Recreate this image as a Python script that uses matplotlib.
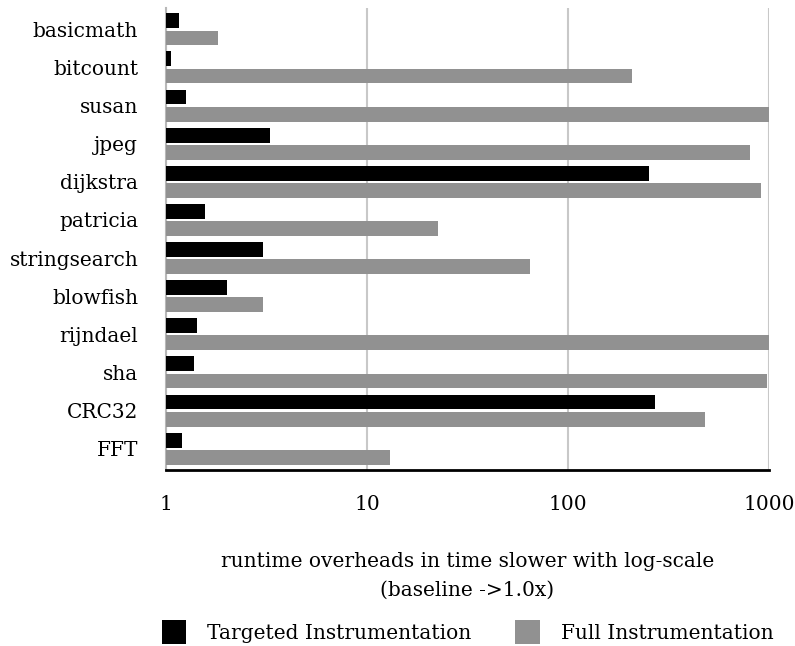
import numpy as np
import matplotlib
matplotlib.use("Agg")
import matplotlib.pyplot as plt

plt.rcParams['font.family'] = ['DejaVu Serif']

# benchmark names (top to bottom) and slowdown factors
benchmarks = ['basicmath', 'bitcount', 'susan', 'jpeg', 'dijkstra', 'patricia',
              'stringsearch', 'blowfish', 'rijndael', 'sha', 'CRC32', 'FFT']
targeted = [1.16, 1.06, 1.26, 3.29, 253, 1.56, 3.04, 2.01, 1.43, 1.38, 271, 1.2]
full = [1.81, 208, 1000, 804, 912, 22.6, 64.7, 3.04, 1000, 977, 480, 13]
xticks = [1, 10, 100, 1000]

fs = 14.5
fig = plt.figure(figsize=(7.95, 6.46), dpi=100)
ax = fig.add_axes([0.2088, 0.2724, 0.7585, 0.7152])

y = np.arange(len(benchmarks))
h = 0.39
ax.barh(y - 0.225, np.array(targeted) - 1, height=h, left=1, color='black',
        label='Targeted Instrumentation', zorder=3)
ax.barh(y + 0.225, np.array(full) - 1, height=h, left=1, color='#919191',
        label='Full Instrumentation', zorder=3)

ax.set_xscale('log')
ax.set_xlim(1, 1000)
ax.set_ylim(11.56, -0.56)
ax.set_xticks(xticks)
ax.set_xticklabels([str(t) for t in xticks], fontsize=fs)
ax.minorticks_off()
ax.set_yticks(y)
ax.set_yticklabels(benchmarks, fontsize=fs)
ax.tick_params(axis='both', length=0)
ax.tick_params(axis='y', pad=20)
ax.tick_params(axis='x', pad=18)

ax.grid(axis='x', color='#c8c8c8', linewidth=1.5, zorder=0)
for s in ['top', 'right']:
    ax.spines[s].set_visible(False)
ax.spines['left'].set_color('#b8b8b8')
ax.spines['left'].set_linewidth(1.5)
ax.spines['bottom'].set_color('black')
ax.spines['bottom'].set_linewidth(2)

ax.set_xlabel('runtime overheads in time slower with log-scale\n(baseline ->1.0x)',
              fontsize=fs, labelpad=27, linespacing=1.7)

fig.legend(loc='center', bbox_to_anchor=(0.588, 1 - 632 / 646), ncol=2, frameon=False,
           fontsize=fs, handlelength=1.2, handleheight=1.4, handletextpad=1.05,
           columnspacing=2.2)

fig.savefig('out.png', dpi=100)
